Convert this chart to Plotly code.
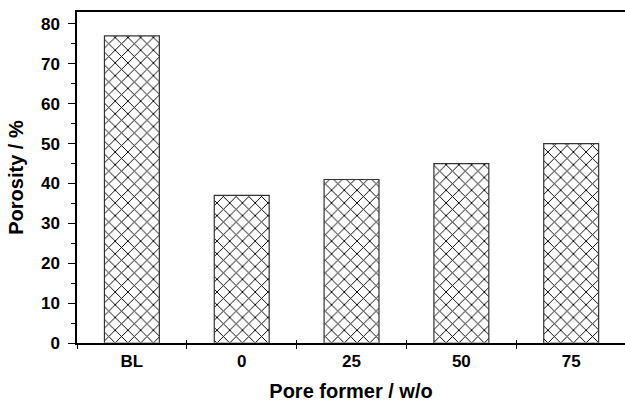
import plotly.graph_objects as go

categories = ["BL", "0", "25", "50", "75"]
porosity = [77, 37, 41, 45, 50]

fig = go.Figure()
fig.add_trace(go.Bar(
    x=categories, y=porosity, width=0.5,
    marker=dict(color="white", line=dict(color="#333333", width=1.2),
                pattern=dict(shape="x", fgcolor="black", bgcolor="white", size=9, solidity=0.2, fillmode="replace")),
    showlegend=False,
))
# invisible trace for the overlaid axis (inside tick marks)
fig.add_trace(go.Bar(x=categories, y=[0]*5, xaxis="x2", showlegend=False, marker=dict(color="rgba(0,0,0,0)"), hoverinfo="skip"))

font = "Liberation Sans, Arial, sans-serif"
fig.update_layout(
    width=625, height=402,
    margin=dict(l=77, r=0, t=12, b=59),
    plot_bgcolor="white", paper_bgcolor="white",
    font=dict(family=font, color="black"),
    xaxis=dict(
        type="category", range=[-0.5, 4.49], tickson="boundaries",
        ticks="outside", ticklen=4, tickwidth=1.2, tickcolor="black",
        showline=True, linecolor="black", linewidth=1.5, mirror=True,
        showgrid=False, zeroline=False,
        tickfont=dict(size=17, family=font, weight="bold"),
        ticklabelstandoff=2,
        title=dict(text="<b>Pore former / w/o</b>", font=dict(size=20), standoff=16),
    ),
    xaxis2=dict(
        type="category", range=[-0.5, 4.49], tickson="boundaries", overlaying="x",
        ticks="inside", ticklen=3, tickwidth=1.2, tickcolor="black",
        showticklabels=False, showgrid=False, showline=False, zeroline=False,
        anchor="y",
    ),
    yaxis=dict(
        range=[0, 83], tickmode="array", tickvals=[0, 10, 20, 30, 40, 50, 60, 70, 80],
        ticks="outside", ticklen=7, tickwidth=1.2, tickcolor="black",
        minor=dict(tickvals=[5, 15, 25, 35, 45, 55, 65, 75], ticks="outside", ticklen=4, tickwidth=1.2, tickcolor="black"),
        showline=True, linecolor="black", linewidth=1.5, mirror=False,
        showgrid=False, zeroline=False,
        tickfont=dict(size=17, family=font, weight="bold"),
        ticklabelstandoff=5,
        title=dict(text="<b>Porosity / %</b>", font=dict(size=20), standoff=12),
    ),
    bargap=0.5,
)

fig.write_html("out.html")
